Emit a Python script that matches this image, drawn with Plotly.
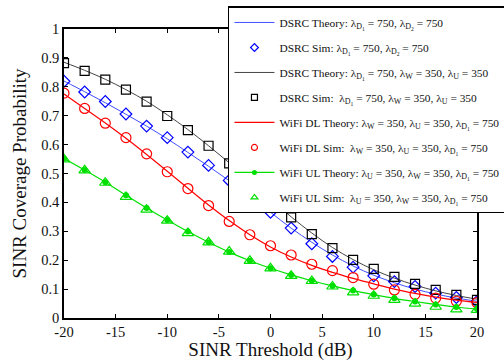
import plotly.graph_objects as go

x_vals = [-20, -18, -16, -14, -12, -10, -8, -6, -4, -2, 0, 2, 4, 6, 8, 10, 12, 14, 16, 18, 20]

dsrc_theory = [0.820, 0.783, 0.745, 0.705, 0.664, 0.620, 0.573, 0.525, 0.475, 0.422, 0.366, 0.311, 0.262, 0.218, 0.180, 0.148, 0.122, 0.100, 0.083, 0.069, 0.058]
dsrc_sim = [0.819, 0.782, 0.749, 0.706, 0.664, 0.624, 0.574, 0.528, 0.476, 0.420, 0.366, 0.311, 0.257, 0.213, 0.176, 0.146, 0.126, 0.109, 0.086, 0.071, 0.057]
dsrc2_theory = [0.885, 0.857, 0.826, 0.790, 0.750, 0.703, 0.652, 0.596, 0.537, 0.475, 0.412, 0.350, 0.294, 0.244, 0.202, 0.167, 0.138, 0.114, 0.094, 0.078, 0.065]
dsrc2_sim = [0.882, 0.855, 0.825, 0.790, 0.749, 0.699, 0.650, 0.596, 0.535, 0.475, 0.410, 0.348, 0.290, 0.242, 0.201, 0.170, 0.142, 0.118, 0.097, 0.080, 0.0625]
dl_theory = [0.775, 0.725, 0.675, 0.622, 0.566, 0.508, 0.449, 0.391, 0.337, 0.288, 0.246, 0.211, 0.182, 0.158, 0.137, 0.118, 0.100, 0.085, 0.072, 0.062, 0.054]
dl_sim = [0.778, 0.725, 0.674, 0.624, 0.568, 0.506, 0.448, 0.389, 0.334, 0.288, 0.250, 0.218, 0.186, 0.164, 0.140, 0.117, 0.097, 0.082, 0.069, 0.058, 0.053]
ul_theory = [0.552, 0.512, 0.470, 0.425, 0.381, 0.339, 0.299, 0.262, 0.228, 0.198, 0.172, 0.149, 0.129, 0.111, 0.095, 0.081, 0.068, 0.057, 0.047, 0.038, 0.031]
ul_sim = [0.549, 0.511, 0.468, 0.419, 0.375, 0.337, 0.294, 0.262, 0.230, 0.198, 0.172, 0.146, 0.128, 0.109, 0.089, 0.077, 0.0625, 0.050, 0.039, 0.030, 0.028]

x_ticks = [-20, -15, -10, -5, 0, 5, 10, 15, 20]
x_tick_text = ["-20", "-15", "-10", "-5", "0", "5", "10", "15", "20"]
y_ticks = [0, 0.1, 0.2, 0.3, 0.4, 0.5, 0.6, 0.7, 0.8, 0.9, 1]
y_tick_text = ["0", "0.1", "0.2", "0.3", "0.4", "0.5", "0.6", "0.7", "0.8", "0.9", "1"]

LD1 = "λ<sub>D<sub>1</sub></sub>"
LD2 = "λ<sub>D<sub>2</sub></sub>"
LW = "λ<sub>W</sub>"
LU = "λ<sub>U</sub>"

names = [
    f"DSRC Theory: {LD1} = 750, {LD2} = 750",
    f"DSRC Sim: {LD1} = 750, {LD2} = 750",
    f"DSRC Theory: {LD1} = 750, {LW} = 350, {LU} = 350",
    f"DSRC Sim:  {LD1} = 750, {LW} = 350, {LU} = 350",
    f"WiFi DL Theory: {LW} = 350, {LU} = 350, {LD1} = 750",
    f"WiFi DL Sim:  {LW} = 350, {LU} = 350, {LD1} = 750",
    f"WiFi UL Theory: {LU} = 350, {LW} = 350, {LD1} = 750",
    f"WiFi UL Sim:  {LU} = 350, {LW} = 350, {LD1} = 750",
]

FONT = "Liberation Serif"
BLUE = "#0000ff"
RED = "#ff0000"
GREEN = "#00e000"

series = [
    (dsrc_theory, "lines", dict(color="#4050ff", width=1, shape="spline"), None),
    (dsrc_sim, "markers", None, dict(symbol="diamond-open", size=9, color=BLUE, line=dict(width=1.2))),
    (dsrc2_theory, "lines", dict(color="#444444", width=1, shape="spline"), None),
    (dsrc2_sim, "markers", None, dict(symbol="square-open", size=9, color="black", line=dict(width=1.2))),
    (dl_theory, "lines", dict(color=RED, width=1.2, shape="spline"), None),
    (dl_sim, "markers", None, dict(symbol="circle-open", size=10, color=RED, line=dict(width=1.2))),
    (ul_theory, "lines+markers", dict(color=GREEN, width=1.2, shape="spline"), dict(symbol="circle", size=6, color=GREEN)),
    (ul_sim, "markers", None, dict(symbol="triangle-up-open", size=10, color=GREEN, line=dict(width=1.2))),
]

fig = go.Figure()
for i, (yv, mode, line, marker) in enumerate(series):
    kw = {}
    if line is not None:
        kw["line"] = line
    if marker is not None:
        kw["marker"] = marker
    fig.add_trace(go.Scatter(x=x_vals, y=yv, mode=mode, showlegend=False, **kw))

for i, (yv, mode, line, marker) in enumerate(series):
    kw = {}
    if line is not None:
        kw["line"] = dict(color=line["color"], width=line["width"])
    if marker is not None:
        m = dict(marker)
        m["size"] = 6 if "open" in m["symbol"] else 5
        kw["marker"] = m
    fig.add_trace(go.Scatter(x=[None], y=[None], mode=mode, name=names[i],
                             legendgroup=f"g{i}", showlegend=True, **kw))

axis_common = dict(
    showline=True, linecolor="black", linewidth=1.5, mirror="allticks",
    ticks="inside", ticklen=4, tickcolor="black", tickwidth=1,
    showgrid=False, zeroline=False,
    tickfont=dict(family=FONT, size=14.5, color="#111111"),
)

fig.update_xaxes(range=[-20, 20], tickvals=x_ticks, ticktext=x_tick_text,
                 title=dict(text="SINR Threshold (dB)", standoff=2,
                            font=dict(family=FONT, size=19, color="#111111")),
                 **axis_common)
fig.update_yaxes(range=[0, 1], tickvals=y_ticks, ticktext=y_tick_text,
                 title=dict(text="SINR Coverage Probability", standoff=10,
                            font=dict(family=FONT, size=19, color="#111111")),
                 **axis_common)

fig.update_layout(
    width=504, height=361,
    margin=dict(l=64, r=27, t=29, b=43, autoexpand=False),
    paper_bgcolor="white", plot_bgcolor="white",
    font=dict(family=FONT, color="black"),
    showlegend=True,
    legend=dict(x=0.397, y=1.078, xanchor="left", yanchor="top",
                bgcolor="white", bordercolor="black", borderwidth=1.5,
                font=dict(family=FONT, size=11.4, color="#111111"),
                itemwidth=40, tracegroupgap=6, maxheight=300),
)

fig.write_html("out.html")
